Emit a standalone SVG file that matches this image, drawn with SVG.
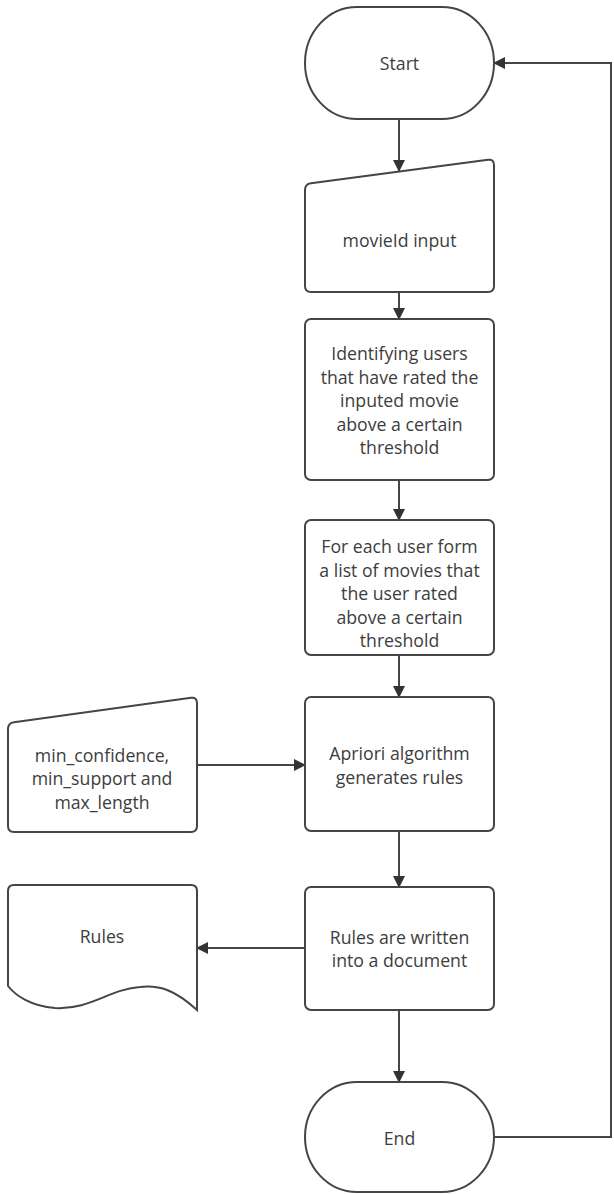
<svg xmlns="http://www.w3.org/2000/svg" width="614" height="1194" viewBox="0 0 614 1194">
<style>
.shape{fill:#fff;stroke:#454545;stroke-width:2}
.conn{fill:none;stroke:#454545;stroke-width:2}
.t{font-family:"Open Sans","Noto Sans",sans-serif;font-size:17.7px;fill:#3d3d3d;text-anchor:middle;dominant-baseline:central}
</style>
<defs>
<marker id="arr" markerUnits="userSpaceOnUse" markerWidth="13" markerHeight="13" refX="11" refY="6.5" orient="auto">
<path d="M0,0.5 L12,6.5 L0,12.5 Z" fill="#333"/>
</marker>
</defs>
<rect width="614" height="1194" fill="#fff"/>
<g id="connectors">
<line class="conn" x1="399" y1="119" x2="399" y2="171" marker-end="url(#arr)"/>
<line class="conn" x1="399" y1="292" x2="399" y2="319" marker-end="url(#arr)"/>
<line class="conn" x1="399" y1="480" x2="399" y2="520" marker-end="url(#arr)"/>
<line class="conn" x1="399" y1="655" x2="399" y2="697" marker-end="url(#arr)"/>
<line class="conn" x1="399" y1="831" x2="399" y2="887" marker-end="url(#arr)"/>
<line class="conn" x1="399" y1="1010" x2="399" y2="1082" marker-end="url(#arr)"/>
<line class="conn" x1="197" y1="765" x2="305" y2="765" marker-end="url(#arr)"/>
<line class="conn" x1="305" y1="948" x2="197" y2="948" marker-end="url(#arr)"/>
<polyline class="conn" points="494,1137 611,1137 611,63 494,63" marker-end="url(#arr)"/>
</g>
<g id="start">
<rect class="shape" x="305" y="7" width="189" height="112" rx="52" ry="56"/>
<text class="t" x="399.5" y="63">Start</text>
</g>
<g id="movieid-input">
<path class="shape" d="M305,190 Q305,184 311,183.2 L488,159.8 Q494,159 494,165 L494,286 Q494,292 488,292 L311,292 Q305,292 305,286 Z"/>
<text class="t" x="399.5" y="240">movieId input</text>
</g>
<g id="identify-users">
<rect class="shape" x="305" y="319" width="189" height="161" rx="6"/>
<text class="t" x="399.5" y="353">Identifying users</text>
<text class="t" x="399.5" y="377">that have rated the</text>
<text class="t" x="399.5" y="400">inputed movie</text>
<text class="t" x="399.5" y="424">above a certain</text>
<text class="t" x="399.5" y="447">threshold</text>
</g>
<g id="form-lists">
<rect class="shape" x="305" y="520" width="189" height="135" rx="6"/>
<text class="t" x="399.5" y="546">For each user form</text>
<text class="t" x="399.5" y="570">a list of movies that</text>
<text class="t" x="399.5" y="593">the user rated</text>
<text class="t" x="399.5" y="617">above a certain</text>
<text class="t" x="399.5" y="640">threshold</text>
</g>
<g id="apriori">
<rect class="shape" x="305" y="697" width="189" height="134" rx="6"/>
<text class="t" x="399.5" y="753">Apriori algorithm</text>
<text class="t" x="399.5" y="777">generates rules</text>
</g>
<g id="parameters">
<path class="shape" d="M8,729 Q8,723 14,722.2 L191,697.8 Q197,697 197,703 L197,826 Q197,832 191,832 L14,832 Q8,832 8,826 Z"/>
<text class="t" x="102" y="755">min_confidence,</text>
<text class="t" x="102" y="778">min_support and</text>
<text class="t" x="102" y="802">max_length</text>
</g>
<g id="rules-written">
<rect class="shape" x="305" y="887" width="189" height="123" rx="6"/>
<text class="t" x="399.5" y="937">Rules are written</text>
<text class="t" x="399.5" y="960">into a document</text>
</g>
<g id="rules-doc">
<path class="shape" d="M8,986 L8,891 Q8,885 14,885 L191,885 Q197,885 197,891 L197,1010 C175,990 160,985 140,987 C110,989 90,1010 55,1008 C30,1006 15,995 8,986 Z"/>
<text class="t" x="102" y="936">Rules</text>
</g>
<g id="end">
<rect class="shape" x="305" y="1082" width="189" height="110" rx="52" ry="55"/>
<text class="t" x="399.5" y="1138">End</text>
</g>
</svg>
